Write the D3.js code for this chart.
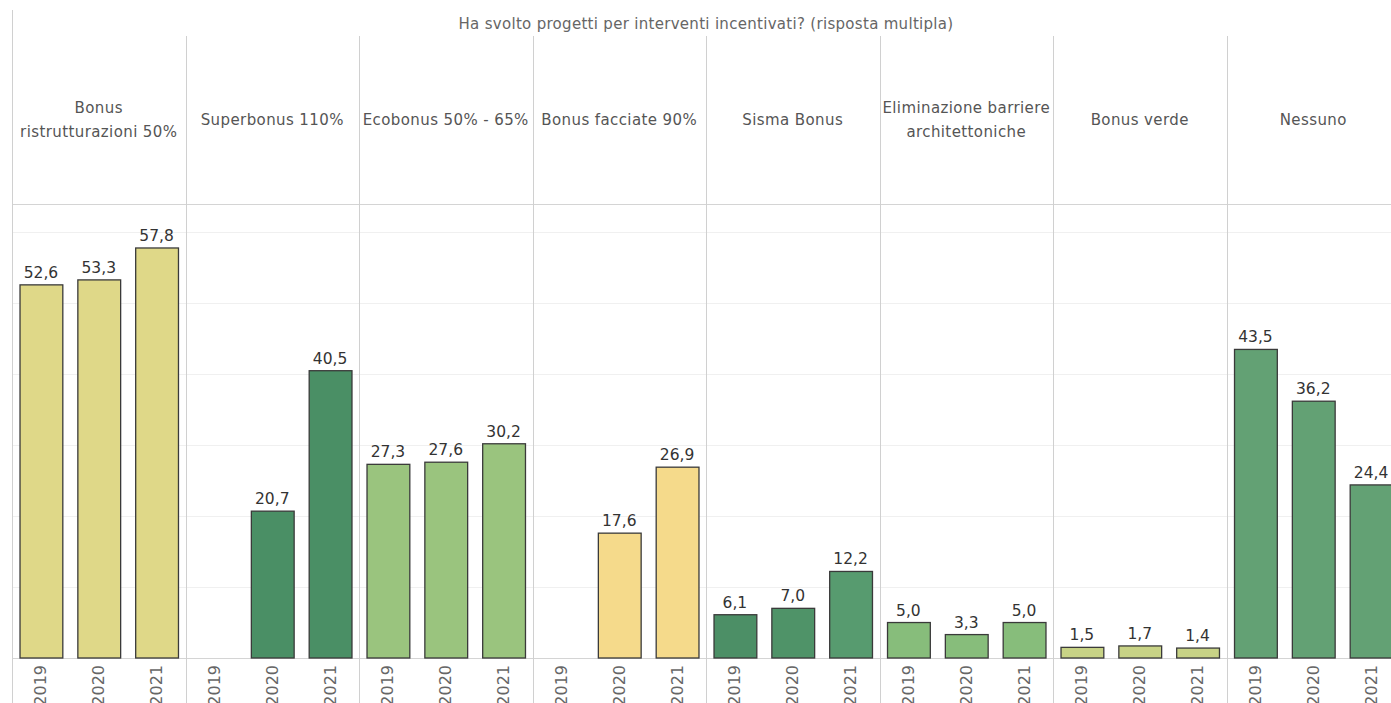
<!DOCTYPE html>
<html>
<head>
<meta charset="utf-8">
<script src="https://cdn.jsdelivr.net/npm/d3@7"></script>
<style>
  body { margin: 0; background: #fff; overflow: hidden; }
  svg { display: block; font-family: "DejaVu Sans", "Open Sans", sans-serif; }
</style>
</head>
<body>
<svg id="chart" width="1391" height="703"></svg>
<script>
const title = 'Ha svolto progetti per interventi incentivati? (risposta multipla)';

const categories = [
    'Bonus ristrutturazioni 50%', 'Superbonus 110%', 'Ecobonus 50% - 65%',
    'Bonus facciate 90%', 'Sisma Bonus', 'Eliminazione barriere architettoniche',
    'Bonus verde', 'Nessuno'
];
// header labels, split like the picture
const headerLines = [
    ['Bonus', 'ristrutturazioni 50%'], ['Superbonus 110%'], ['Ecobonus 50% - 65%'],
    ['Bonus facciate 90%'], ['Sisma Bonus'], ['Eliminazione barriere', 'architettoniche'],
    ['Bonus verde'], ['Nessuno']
];
const years = ['2019', '2020', '2021'];

const values2019 = [52.6, null, 27.3, null, 6.1, 5.0, 1.5, 43.5];
const values2020 = [53.3, 20.7, 27.6, 17.6, 7.0, 3.3, 1.7, 36.2];
const values2021 = [57.8, 40.5, 30.2, 26.9, 12.2, 5.0, 1.4, 24.4];

const yTicks = [10, 20, 30, 40, 50, 60];

// fill per panel, one per year
const barColors = [
    ['#dfd888', '#dfd888', '#dfd888'],
    ['#4a8f65', '#4a8f65', '#4a8f65'],
    ['#9ac47e', '#9ac47e', '#9ac47e'],
    ['#f5da8b', '#f5da8b', '#f5da8b'],
    ['#4c8f66', '#4f9368', '#579b6f'],
    ['#87bd7b', '#87bd7b', '#87bd7b'],
    ['#c8d386', '#c8d386', '#c8d386'],
    ['#63a174', '#63a174', '#63a174']
];

const svg = d3.select('#chart');

const left = 12;
const panelW = 173.5;
const headerTop = 36;
const plotTop = 204;
const baseY = 658;
const right = left + panelW * categories.length;

const xPanel = d3.scaleBand().domain(categories).range([left, right]);
const xYear = d3.scaleBand().domain(years).range([0, panelW]).paddingInner(0.26).paddingOuter(0.13);
const y = d3.scaleLinear().domain([0, 64]).range([baseY, plotTop]);

const fmt = v => d3.format('.1f')(v).replace('.', ',');

// title
svg.append('text')
    .attr('x', (left + right) / 2).attr('y', 29)
    .attr('text-anchor', 'middle')
    .attr('fill', '#666').style('font-size', '15px').style('letter-spacing', '0.3px')
    .text(title);

// faint gridlines
svg.append('g').selectAll('line').data(yTicks).enter().append('line')
    .attr('x1', left).attr('x2', right)
    .attr('y1', d => Math.round(y(d)) + 0.5).attr('y2', d => Math.round(y(d)) + 0.5)
    .attr('stroke', '#f0f0f0').attr('stroke-width', 1);

// header bottom + baseline
svg.append('line').attr('x1', left).attr('x2', right).attr('y1', plotTop + 0.5).attr('y2', plotTop + 0.5)
    .attr('stroke', '#d4d4d4');
svg.append('line').attr('x1', left).attr('x2', right).attr('y1', baseY + 0.5).attr('y2', baseY + 0.5)
    .attr('stroke', '#d4d4d4');

// panel separators
svg.append('line').attr('x1', left + 0.5).attr('x2', left + 0.5).attr('y1', 10).attr('y2', 703)
    .attr('stroke', '#d0d0d0');
svg.append('g').selectAll('line').data(categories.slice(1)).enter().append('line')
    .attr('x1', d => Math.round(xPanel(d)) + 0.5).attr('x2', d => Math.round(xPanel(d)) + 0.5)
    .attr('y1', headerTop).attr('y2', 703)
    .attr('stroke', '#d0d0d0');

// headers
const headers = svg.append('g').selectAll('text').data(categories).enter().append('text')
    .attr('text-anchor', 'middle')
    .attr('fill', '#555').style('font-size', '15px').style('letter-spacing', '0.4px');
headers.each(function (d, i) {
    const lines = headerLines[i];
    const cx = xPanel(d) + panelW / 2;
    const startY = 125 - (lines.length - 1) * 12;
    d3.select(this).selectAll('tspan').data(lines).enter().append('tspan')
        .attr('x', cx).attr('y', (l, j) => startY + j * 24)
        .text(l => l);
});

// bars
const series = [values2019, values2020, values2021];
const barData = [];
categories.forEach((c, i) => {
    years.forEach((yr, j) => {
        const v = series[j][i];
        if (v == null) return;
        barData.push({ cat: c, year: yr, value: v, color: barColors[i][j] });
    });
});

const bars = svg.append('g').selectAll('g').data(barData).enter().append('g')
    .attr('transform', d => 'translate(' + xPanel(d.cat) + ',0)');

bars.append('rect')
    .attr('x', d => xYear(d.year) + 0.5)
    .attr('y', d => y(d.value))
    .attr('width', xYear.bandwidth())
    .attr('height', d => baseY - y(d.value))
    .attr('fill', d => d.color)
    .attr('stroke', '#3a3a3a').attr('stroke-width', 1.3);

bars.append('text')
    .attr('x', d => xYear(d.year) + xYear.bandwidth() / 2)
    .attr('y', d => y(d.value) - 7)
    .attr('text-anchor', 'middle')
    .attr('fill', '#333').style('font-size', '15.5px')
    .text(d => fmt(d.value));

// year labels
categories.forEach(c => {
    svg.append('g').selectAll('text').data(years).enter().append('text')
        .attr('transform', d => 'translate(' + (xPanel(c) + xYear(d) + xYear.bandwidth() / 2 + 5.5) + ',' + 665 + ') rotate(-90)')
        .attr('text-anchor', 'end')
        .attr('fill', '#666').style('font-size', '16px')
        .text(d => d);
});
</script>
</body>
</html>
